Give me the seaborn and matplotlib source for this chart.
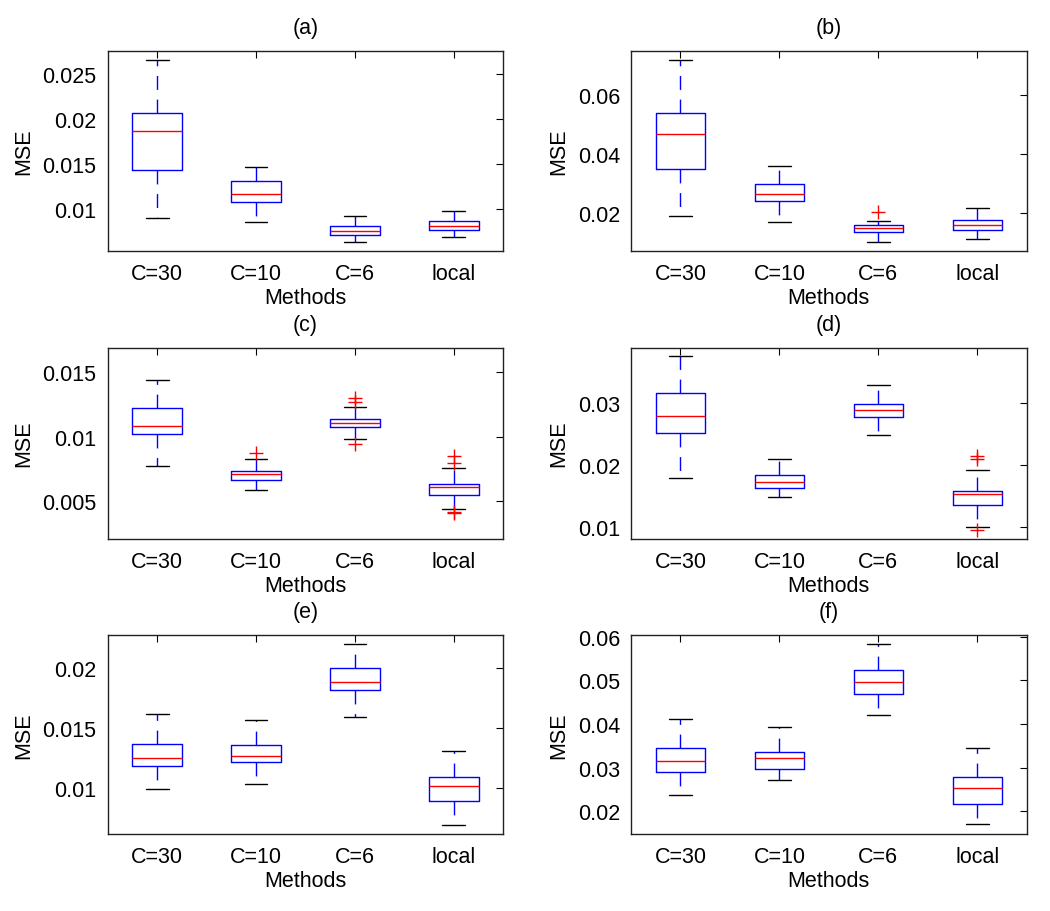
import matplotlib
matplotlib.use("Agg")
import matplotlib.pyplot as plt
import seaborn as sns
from matplotlib.ticker import MultipleLocator, FormatStrFormatter

sns.set_style("white")
plt.rcParams['font.family'] = ['Liberation Sans', 'DejaVu Sans']
plt.rcParams['text.color'] = 'black'
plt.rcParams['axes.labelcolor'] = 'black'

methods = ["C=30", "C=10", "C=6", "local"]
panel_titles = ["(a)", "(b)", "(c)", "(d)", "(e)", "(f)"]

# Box statistics per panel: one value per method
a_low = [0.00907, 0.00859, 0.00637, 0.00689]
a_q1 = [0.01437, 0.01078, 0.00715, 0.00767]
a_med = [0.01874, 0.01174, 0.00756, 0.00815]
a_q3 = [0.02067, 0.01311, 0.00815, 0.00870]
a_high = [0.02660, 0.01474, 0.00930, 0.00981]
a_out = [[], [], [], []]

b_low = [0.0189, 0.0170, 0.0101, 0.0111]
b_q1 = [0.0347, 0.0238, 0.0134, 0.0142]
b_med = [0.0468, 0.0264, 0.0147, 0.0158]
b_q3 = [0.0539, 0.0298, 0.0159, 0.0174]
b_high = [0.0718, 0.0357, 0.0173, 0.0216]
b_out = [[], [], [0.0203], []]

c_low = [0.00773, 0.00586, 0.00982, 0.00432]
c_q1 = [0.01021, 0.00659, 0.01073, 0.00547]
c_med = [0.01083, 0.00708, 0.01107, 0.00610]
c_q3 = [0.01224, 0.00732, 0.01135, 0.00633]
c_high = [0.01438, 0.00826, 0.01227, 0.00753]
c_out = [[], [0.00870], [0.01300, 0.01268, 0.00938], [0.00850, 0.00795, 0.00414, 0.00405]]

d_low = [0.0179, 0.0148, 0.0249, 0.00997]
d_q1 = [0.0252, 0.0163, 0.0278, 0.0135]
d_med = [0.0279, 0.0172, 0.0289, 0.0153]
d_q3 = [0.0317, 0.0184, 0.0298, 0.0157]
d_high = [0.0376, 0.0209, 0.0329, 0.0191]
d_out = [[], [], [], [0.0215, 0.0210, 0.00949]]

e_low = [0.00987, 0.01032, 0.01595, 0.00688]
e_q1 = [0.01181, 0.01217, 0.01817, 0.00889]
e_med = [0.01251, 0.01265, 0.01887, 0.01015]
e_q3 = [0.01366, 0.01360, 0.02000, 0.01091]
e_high = [0.01620, 0.01564, 0.02206, 0.01304]
e_out = [[], [], [], []]

f_low = [0.0238, 0.0272, 0.0421, 0.0170]
f_q1 = [0.0289, 0.0298, 0.0469, 0.0216]
f_med = [0.0315, 0.0321, 0.0496, 0.0254]
f_q3 = [0.0344, 0.0335, 0.0523, 0.0279]
f_high = [0.0412, 0.0392, 0.0584, 0.0345]
f_out = [[], [], [], []]

y_limits = [(0.00541, 0.02756), (0.00712, 0.0747), (0.00203, 0.01693),
            (0.00803, 0.03898), (0.00615, 0.02279), (0.01493, 0.0603)]
y_steps = [0.005, 0.02, 0.005, 0.01, 0.005, 0.01]

panels = [
    (a_low, a_q1, a_med, a_q3, a_high, a_out),
    (b_low, b_q1, b_med, b_q3, b_high, b_out),
    (c_low, c_q1, c_med, c_q3, c_high, c_out),
    (d_low, d_q1, d_med, d_q3, d_high, d_out),
    (e_low, e_q1, e_med, e_q3, e_high, e_out),
    (f_low, f_q1, f_med, f_q3, f_high, f_out),
]

W, H = 1050, 912
fig = plt.figure(figsize=(W / 100, H / 100), dpi=100)

col_lr = [(107.7, 503.3), (631.0, 1026.7)]
row_tb = [(52.3, 251.7), (348.7, 539.7), (636.2, 834.5)]

FS = 15.5
for i, (low, q1, med, q3, high, out) in enumerate(panels):
    r, c = divmod(i, 2)
    l, rr = col_lr[c]
    t, b = row_tb[r]
    ax = fig.add_axes([l / W, 1 - b / H, (rr - l) / W, (b - t) / H])
    stats = []
    for k, m in enumerate(methods):
        stats.append(dict(label=m, whislo=low[k], q1=q1[k], med=med[k],
                          q3=q3[k], whishi=high[k], fliers=out[k]))
    ax.bxp(stats, positions=[1, 2, 3, 4], widths=0.5, showfliers=True,
           boxprops=dict(color="blue", linewidth=1.0),
           medianprops=dict(color="red", linewidth=1.0),
           whiskerprops=dict(color="blue", linestyle=(0, (10, 7)), linewidth=1.0),
           capprops=dict(color="black", linewidth=1.0),
           flierprops=dict(marker="+", markeredgecolor="red", markersize=10,
                           markeredgewidth=1.0, linestyle="none"),
           capwidths=0.23)
    ax.set_xlim(0.5, 4.5)
    ax.set_ylim(*y_limits[i])
    ax.yaxis.set_major_locator(MultipleLocator(y_steps[i]))
    ax.yaxis.set_major_formatter(FormatStrFormatter('%g'))
    ax.set_xticks([1, 2, 3, 4])
    ax.set_xticklabels(methods)
    ax.tick_params(direction="in", length=5, width=0.8, top=True, right=True,
                   labelsize=FS, pad=8, colors="black")
    ax.tick_params(axis="x", pad=9)
    for sp in ax.spines.values():
        sp.set_color("#222222")
        sp.set_linewidth(1.0)
    ax.set_xlabel("Methods", fontsize=FS, labelpad=2, color="black")
    ax.set_ylabel("MSE", fontsize=FS, labelpad=6, color="black")
    ax.set_title(panel_titles[i], fontsize=FS, pad=13, color="black")
    ax.set_facecolor("white")

fig.savefig("out.png", dpi=100, facecolor="white")
